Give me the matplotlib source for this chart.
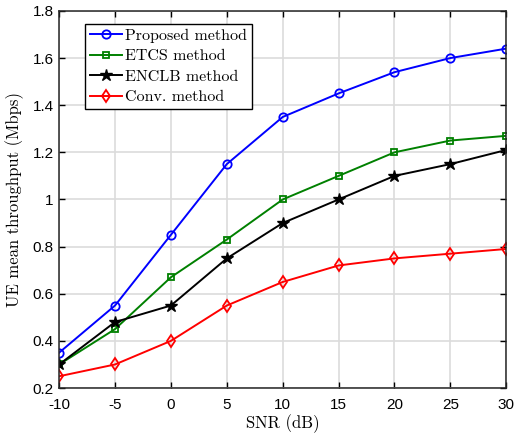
import matplotlib
matplotlib.use('Agg')
import matplotlib.pyplot as plt

# Data
snr = [-10, -5, 0, 5, 10, 15, 20, 25, 30]
proposed = [0.35, 0.55, 0.85, 1.15, 1.35, 1.45, 1.54, 1.60, 1.64]
etcs = [0.30, 0.45, 0.67, 0.83, 1.00, 1.10, 1.20, 1.25, 1.27]
enclb = [0.30, 0.48, 0.55, 0.75, 0.90, 1.00, 1.10, 1.15, 1.21]
conv = [0.25, 0.30, 0.40, 0.55, 0.65, 0.72, 0.75, 0.77, 0.79]
xticks = [-10, -5, 0, 5, 10, 15, 20, 25, 30]
yticks = [0.2, 0.4, 0.6, 0.8, 1.0, 1.2, 1.4, 1.6, 1.8]
ytick_labels = ['0.2', '0.4', '0.6', '0.8', '1', '1.2', '1.4', '1.6', '1.8']

SERIF = ['cmr10', 'DejaVu Serif']
plt.rcParams['font.family'] = ['Liberation Sans', 'DejaVu Sans']
plt.rcParams['axes.unicode_minus'] = False

fig = plt.figure(figsize=(5.14, 4.36), dpi=100)
ax = fig.add_axes([0.115, 0.110, 0.870, 0.865])

ax.plot(snr, proposed, color='#0000ff', marker='o', markersize=6, markerfacecolor='none',
        markeredgewidth=1.3, linewidth=1.4, label='Proposed method')
ax.plot(snr, etcs, color='#008000', marker='s', markersize=5, markerfacecolor='none',
        markeredgewidth=1.3, linewidth=1.4, label='ETCS method')
ax.plot(snr, enclb, color='black', marker='*', markersize=9,
        linewidth=1.4, label='ENCLB method')
ax.plot(snr, conv, color='#ff0000', marker='d', markersize=6, markerfacecolor='none',
        markeredgewidth=1.3, linewidth=1.4, label='Conv. method')

ax.set_xlim(-10, 30)
ax.set_ylim(0.2, 1.8)
ax.set_xticks(xticks)
ax.set_xticklabels([str(v) for v in xticks])
ax.set_yticks(yticks)
ax.set_yticklabels(ytick_labels)
ax.tick_params(direction='in', top=True, right=True, length=4, width=1, labelsize=11)
ax.tick_params(axis='x', pad=7)
ax.tick_params(axis='y', pad=4)
ax.grid(True, color='#dcdcdc', linewidth=1.2)
ax.set_axisbelow(True)
for sp in ax.spines.values():
    sp.set_linewidth(1.1)
    sp.set_color('#262626')

ax.set_xlabel('SNR (dB)', family=SERIF, fontsize=12, labelpad=2)
ax.set_ylabel('UE mean throughput (Mbps)', family=SERIF, fontsize=12, labelpad=6)

leg = ax.legend(loc='upper left', bbox_to_anchor=(0.058, 0.966), prop={'family': SERIF, 'size': 11.5},
                fancybox=False, edgecolor='black', framealpha=1, handlelength=2.0,
                handletextpad=0.2, borderpad=0.3, labelspacing=0.4, borderaxespad=0)
leg.get_frame().set_linewidth(1.0)

fig.savefig('out.png', dpi=100)
